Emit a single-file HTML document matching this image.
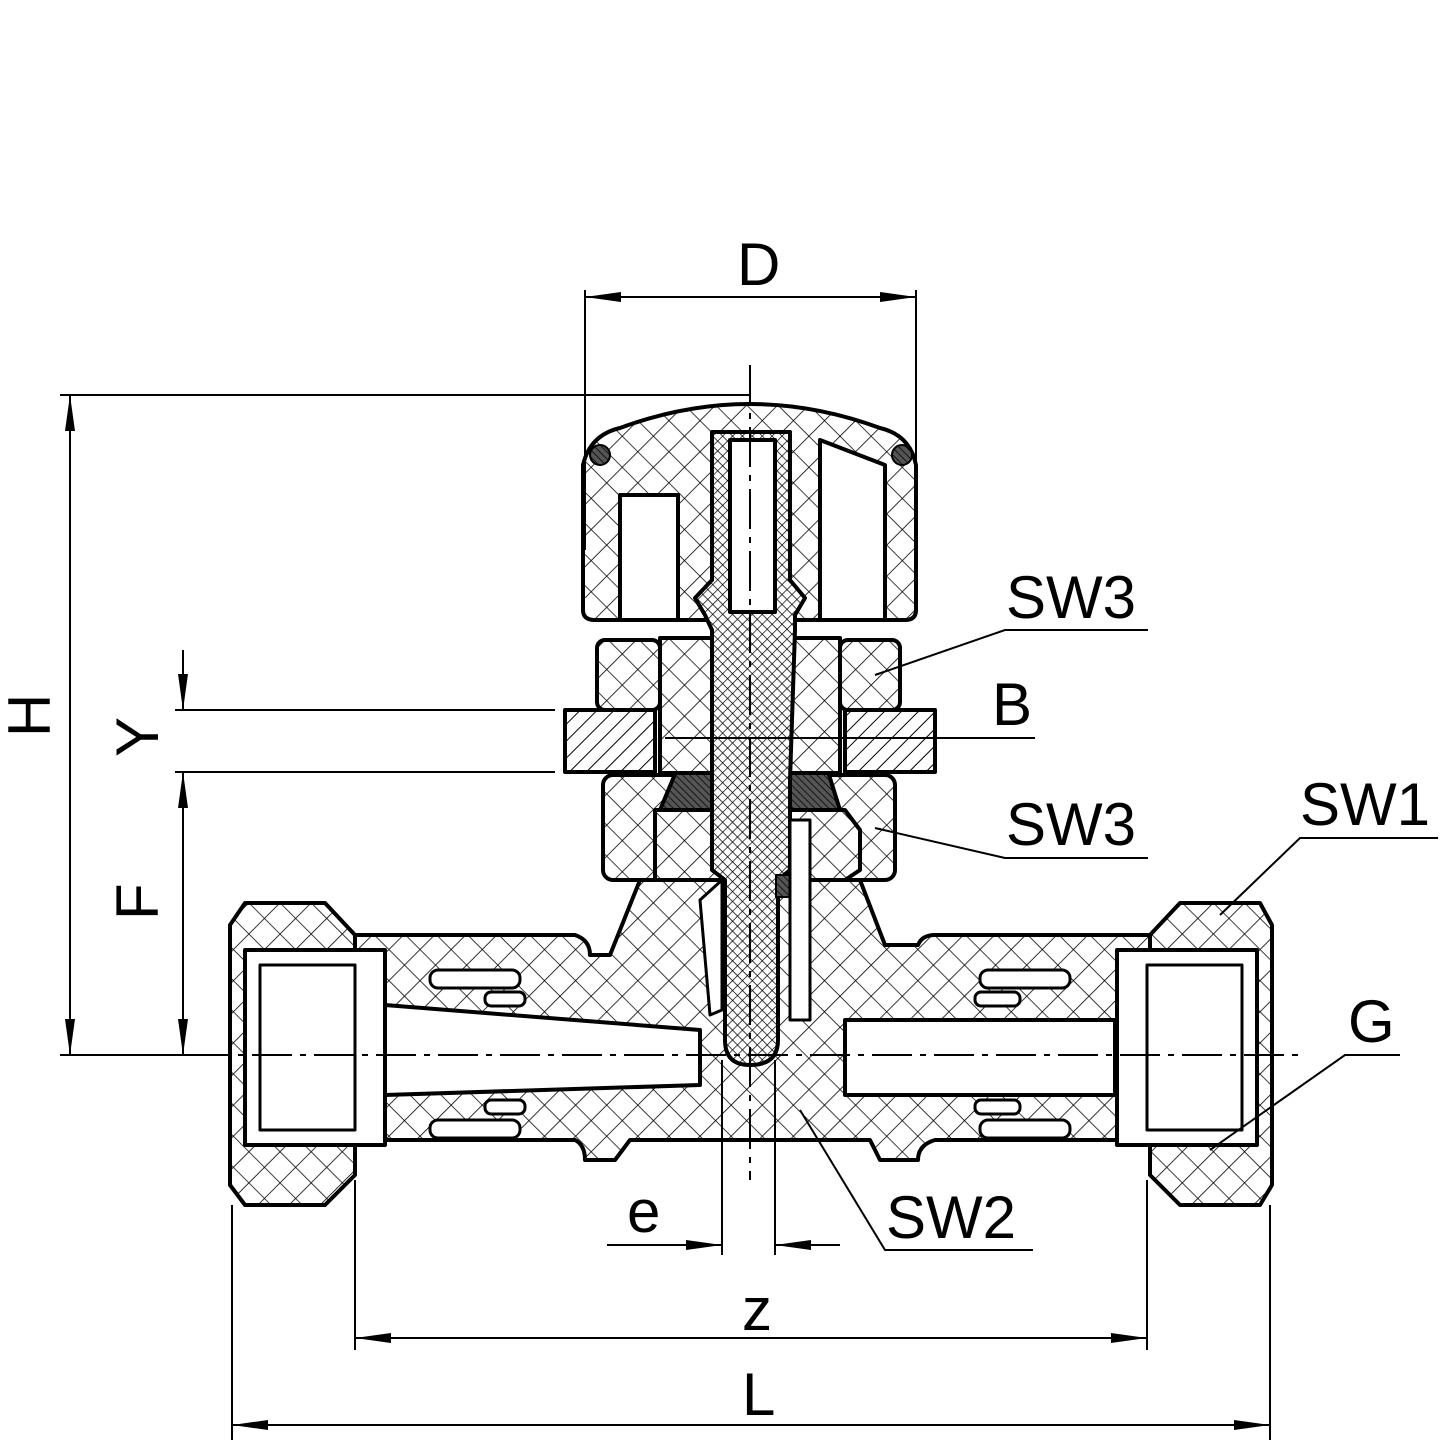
<!DOCTYPE html>
<html><head><meta charset="utf-8"><style>html,body{margin:0;padding:0;background:#fff}svg{display:block}</style></head>
<body>
<svg width="1444" height="1444" viewBox="0 0 1444 1444" xmlns="http://www.w3.org/2000/svg" font-family="Liberation Sans, sans-serif">
<defs>
<pattern id="x" width="22" height="22" patternUnits="userSpaceOnUse" patternTransform="rotate(45)">
<rect width="22" height="22" fill="#fff"/><path d="M0 0H22M0 0V22" stroke="#000" stroke-width="1.6"/></pattern>
<pattern id="f" width="7" height="7" patternUnits="userSpaceOnUse" patternTransform="rotate(45)">
<rect width="7" height="7" fill="#fff"/><path d="M0 0H7M0 0V7" stroke="#000" stroke-width="1.4"/></pattern>
<pattern id="d" width="12" height="12" patternUnits="userSpaceOnUse" patternTransform="rotate(-45)">
<rect width="12" height="12" fill="#fff"/><path d="M0 0H12" stroke="#000" stroke-width="2"/></pattern>
<pattern id="dk" width="5" height="5" patternUnits="userSpaceOnUse" patternTransform="rotate(45)">
<rect width="5" height="5" fill="#555"/><path d="M0 0H5" stroke="#000" stroke-width="1.5"/></pattern>
<marker id="a" viewBox="0 0 36 10" refX="36" refY="5" markerWidth="36" markerHeight="10" orient="auto-start-reverse" markerUnits="userSpaceOnUse"><path d="M0 0L36 5L0 10z"/></marker>
</defs>
<g stroke="#000" stroke-width="4" stroke-linejoin="round">
<path d="M330 935 H575 Q590 940 590 955 H610 L640 880 L640 820 H860 V880 L885 945 H918 Q922 935 935 935 H1170 V1140 H935 Q918 1145 918 1160 H880 L870 1140 H630 L615 1160 H585 Q585 1145 575 1140 H330 Z" fill="url(#x)"/>
<path d="M245 903 H325 L355 935 V1175 L325 1205 H245 L230 1185 V925 Z" fill="url(#x)"/>
<path d="M1180 903 H1260 L1272 925 V1185 L1260 1205 H1180 L1150 1175 V935 Z" fill="url(#x)"/>
<rect x="245" y="950" width="140" height="195" fill="#fff"/>
<rect x="260" y="965" width="95" height="165" fill="#fff" stroke-width="3"/>
<rect x="1117" y="950" width="140" height="195" fill="#fff"/>
<rect x="1147" y="965" width="95" height="165" fill="#fff" stroke-width="3"/>
<path d="M385 1005 L700 1030 V1085 L385 1095 Z" fill="#fff"/>
<path d="M845 1020 H1115 V1095 H845 Z" fill="#fff"/>
<g fill="#fff" stroke-width="3">
<rect x="430" y="970" width="90" height="18" rx="8"/><rect x="485" y="992" width="40" height="14" rx="6"/>
<rect x="430" y="1120" width="90" height="18" rx="8"/><rect x="485" y="1100" width="40" height="14" rx="6"/>
<rect x="980" y="970" width="90" height="18" rx="8"/><rect x="975" y="992" width="45" height="14" rx="6"/>
<rect x="980" y="1120" width="90" height="18" rx="8"/><rect x="975" y="1100" width="45" height="14" rx="6"/>
</g>
<rect x="603" y="775" width="292" height="105" rx="10" fill="url(#x)"/>
<path d="M655 810 H845 L860 830 V870 L845 880 H655 Z" fill="url(#x)"/>
<path d="M660 810 L680 762 H715 V810 Z" fill="url(#dk)"/>
<path d="M790 762 H825 L840 810 H790 Z" fill="url(#dk)"/>
<rect x="597" y="640" width="63" height="70" rx="8" fill="url(#x)"/>
<rect x="840" y="640" width="60" height="70" rx="8" fill="url(#x)"/>
<rect x="660" y="638" width="180" height="135" fill="url(#x)"/>
<rect x="565" y="710" width="90" height="62" fill="url(#d)"/>
<rect x="845" y="710" width="90" height="62" fill="url(#d)"/>
<path d="M583 555 V465 Q590 435 620 428 Q750 380 880 428 Q910 435 916 465 V555 V610 Q916 620 905 620 H595 Q583 620 583 610 Z" fill="url(#x)"/>
<rect x="620" y="495" width="58" height="125" fill="#fff"/>
<path d="M820 440 L885 465 V620 H820 Z" fill="#fff"/>
<circle cx="600" cy="455" r="10" fill="url(#dk)" stroke-width="2"/>
<circle cx="902" cy="455" r="10" fill="url(#dk)" stroke-width="2"/>
<path d="M712 432 H790 V580 L805 598 L795 615 V630 L790 780 V870 L778 880 V1040 Q778 1065 750 1065 Q725 1065 725 1040 V880 L712 870 V630 L705 615 L695 598 L712 580 Z" fill="url(#f)"/>
<rect x="730" y="440" width="45" height="172" fill="#fff"/>
<path d="M700 900 L722 880 V1010 L710 1015 Z" fill="#fff" stroke-width="3"/>
<rect x="776" y="875" width="25" height="22" fill="url(#dk)" stroke-width="2"/>
<rect x="790" y="820" width="20" height="200" fill="#fff" stroke-width="3"/>
</g>
<g stroke="#000" stroke-width="2" stroke-dasharray="40 8 6 8" fill="none">
<path d="M190 1055 H1300"/><path d="M750 365 V1180"/>
</g>
<g stroke="#000" stroke-width="2" fill="none">
<path d="M585 290 V550 M916 290 V550"/>
<path d="M585 297 H916" marker-start="url(#a)" marker-end="url(#a)"/>
<path d="M60 395 H750 M60 1055 H220"/>
<path d="M70 395 V1055" marker-start="url(#a)" marker-end="url(#a)"/>
<path d="M175 710 H555 M175 772 H555"/>
<path d="M183 650 V710" marker-end="url(#a)"/>
<path d="M183 772 V1055" marker-start="url(#a)" marker-end="url(#a)"/>
<path d="M722 1060 V1255 M775 1060 V1255"/>
<path d="M607 1245 H722" marker-end="url(#a)"/><path d="M840 1245 H775" marker-end="url(#a)"/>
<path d="M355 1180 V1350 M1147 1180 V1350"/>
<path d="M355 1338 H1147" marker-start="url(#a)" marker-end="url(#a)"/>
<path d="M232 1205 V1440 M1270 1205 V1440"/>
<path d="M232 1425 H1270" marker-start="url(#a)" marker-end="url(#a)"/>
<path d="M665 738 H1035"/>
<path d="M875 675 L1005 630 H1148"/>
<path d="M875 828 L1005 858 H1148"/>
<path d="M1220 915 L1300 838 H1438"/>
<path d="M1210 1150 L1345 1055 H1400"/>
<path d="M800 1110 L885 1250 H1033"/>
</g>
<g font-size="60" fill="#000">
<text x="737" y="285">D</text>
<text x="1006" y="618">SW3</text>
<text x="992" y="725">B</text>
<text x="1006" y="845">SW3</text>
<text x="1300" y="825">SW1</text>
<text x="1348" y="1042">G</text>
<text x="886" y="1238">SW2</text>
<text x="627" y="1232">e</text>
<text x="742" y="1330">z</text>
<text x="742" y="1415">L</text>
<text transform="translate(50 737) rotate(-90)">H</text>
<text transform="translate(158 757) rotate(-90)">Y</text>
<text transform="translate(158 920) rotate(-90)">F</text>
</g>
</svg>
</body></html>
